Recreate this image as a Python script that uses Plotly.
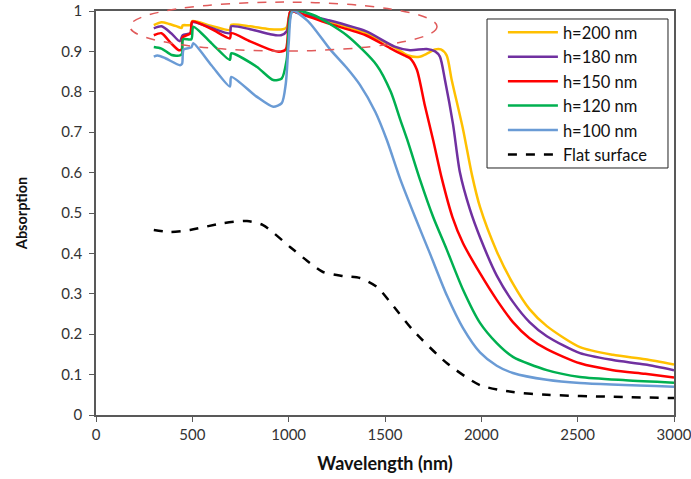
import plotly.graph_objects as go

# Absorption spectra of textured films with different feature heights h
wl_200 = [300, 340, 380, 420, 445, 450, 490, 500, 600, 695, 702, 800, 900, 970, 990, 1010, 1050,
          1200, 1400, 1550, 1620, 1680, 1720, 1760, 1790, 1820, 1846, 1906, 1951, 1993, 2080,
          2164, 2250, 2340, 2512, 2683, 2850, 3000]
abs_200 = [0.965, 0.972, 0.968, 0.962, 0.958, 0.965, 0.965, 0.975, 0.963, 0.953, 0.966, 0.962,
           0.955, 0.955, 0.96, 1.0, 0.995, 0.975, 0.945, 0.91, 0.89, 0.887, 0.895, 0.905, 0.905,
           0.89, 0.83, 0.705, 0.595, 0.515, 0.405, 0.325, 0.262, 0.22, 0.168, 0.149, 0.138, 0.125]

wl_180 = [300, 340, 390, 435, 450, 490, 500, 600, 695, 702, 800, 900, 960, 990, 1010, 1050, 1200,
          1400, 1550, 1630, 1716, 1760, 1785, 1811, 1853, 1889, 1940, 1993, 2080, 2164, 2250,
          2340, 2512, 2683, 2850, 3000]
abs_180 = [0.957, 0.962, 0.945, 0.925, 0.94, 0.945, 0.972, 0.958, 0.945, 0.962, 0.955, 0.943,
           0.94, 0.95, 1.0, 0.995, 0.978, 0.95, 0.912, 0.903, 0.906, 0.9, 0.887, 0.83, 0.72,
           0.60, 0.51, 0.44, 0.345, 0.28, 0.23, 0.195, 0.153, 0.136, 0.125, 0.111]

wl_150 = [300, 340, 390, 430, 445, 450, 490, 500, 600, 695, 702, 800, 900, 950, 985, 1010, 1050,
          1200, 1400, 1526, 1600, 1630, 1665, 1705, 1750, 1795, 1850, 1905, 1993, 2080, 2164,
          2250, 2340, 2512, 2683, 2850, 3000]
abs_150 = [0.94, 0.945, 0.92, 0.903, 0.905, 0.935, 0.945, 0.974, 0.955, 0.932, 0.945, 0.925,
           0.905, 0.899, 0.905, 1.0, 0.995, 0.97, 0.94, 0.908, 0.89, 0.883, 0.855, 0.77, 0.68,
           0.585, 0.49, 0.425, 0.351, 0.285, 0.23, 0.19, 0.163, 0.128, 0.111, 0.102, 0.093]

wl_120 = [300, 340, 393, 436, 447, 452, 495, 505, 600, 695, 702, 834, 920, 964, 990, 1020, 1128,
          1301, 1457, 1530, 1580, 1620, 1682, 1750, 1820, 1905, 1993, 2080, 2164, 2340, 2512,
          2750, 3000]
abs_120 = [0.911, 0.907, 0.891, 0.89, 0.895, 0.93, 0.93, 0.961, 0.92, 0.879, 0.895, 0.862,
           0.829, 0.833, 0.88, 1.0, 0.99, 0.94, 0.866, 0.80, 0.73, 0.675, 0.582, 0.49, 0.41,
           0.31, 0.228, 0.178, 0.144, 0.111, 0.094, 0.086, 0.08]

wl_100 = [300, 320, 360, 436, 447, 455, 495, 505, 600, 695, 702, 834, 920, 964, 985, 1000, 1020,
          1100, 1215, 1300, 1370, 1450, 1510, 1578, 1656, 1733, 1822, 1905, 1993, 2080, 2164,
          2340, 2512, 3000]
abs_100 = [0.887, 0.89, 0.883, 0.866, 0.87, 0.905, 0.91, 0.92, 0.865, 0.813, 0.837, 0.788,
           0.763, 0.772, 0.82, 0.92, 1.0, 0.975, 0.905, 0.86, 0.817, 0.75, 0.68, 0.585, 0.49,
           0.40, 0.295, 0.215, 0.155, 0.122, 0.104, 0.087, 0.079, 0.07]

wl_flat = [300, 384, 488, 660, 784, 867, 1007, 1111, 1178, 1282, 1370, 1458, 1526, 1645, 1822,
           1993, 2164, 2340, 2683, 3000]
abs_flat = [0.458, 0.453, 0.458, 0.475, 0.48, 0.47, 0.416, 0.376, 0.354, 0.344, 0.339, 0.317,
            0.28, 0.21, 0.128, 0.074, 0.057, 0.05, 0.045, 0.042]

series = [
    ("h=200 nm", wl_200, abs_200, "#FFC000", "solid"),
    ("h=180 nm", wl_180, abs_180, "#7030A0", "solid"),
    ("h=150 nm", wl_150, abs_150, "#FF0000", "solid"),
    ("h=120 nm", wl_120, abs_120, "#00B050", "solid"),
    ("h=100 nm", wl_100, abs_100, "#6A9BD5", "solid"),
    ("Flat surface", wl_flat, abs_flat, "#000000", "dash"),
]

x_ticks = [0, 500, 1000, 1500, 2000, 2500, 3000]
y_ticks = [0, 0.1, 0.2, 0.3, 0.4, 0.5, 0.6, 0.7, 0.8, 0.9, 1]
y_tick_text = ["0", "0.1", "0.2", "0.3", "0.4", "0.5", "0.6", "0.7", "0.8", "0.9", "1"]

fig = go.Figure()
for name, x, y, color, dash in series:
    fig.add_trace(go.Scatter(
        x=x, y=y, name=name, mode="lines",
        line=dict(color=color, width=2.5, dash=dash, shape="spline", smoothing=0.7),
    ))

font_family = "Lato, 'Open Sans', sans-serif"

fig.update_layout(
    width=691, height=479,
    margin=dict(l=96, r=17, t=11, b=64),
    paper_bgcolor="white", plot_bgcolor="white",
    font=dict(family=font_family, size=14, color="#222"),
    showlegend=True,
    legend=dict(
        x=0.704, y=0.99, xanchor="left", yanchor="top",
        bgcolor="rgba(0,0,0,0)", borderwidth=0,
        font=dict(size=16.5, color="#111"),
        itemwidth=50,
        tracegroupgap=0,
    ),
    xaxis=dict(
        range=[0, 3000], tickvals=x_ticks, ticks="outside", ticklen=5,
        tickcolor="#595959", showline=True, linecolor="#595959", linewidth=1.5,
        mirror=True, showgrid=False, zeroline=False, automargin=False,
        ticklabeloverflow="allow",
        tickfont=dict(size=15, color="#333"),
        title=dict(text="<b>Wavelength (nm)</b>", font=dict(size=18, color="#111"), standoff=16),
    ),
    yaxis=dict(
        range=[0, 1], tickvals=y_ticks, ticktext=y_tick_text, ticks="outside", ticklen=5,
        tickcolor="#595959", showline=True, linecolor="#595959", linewidth=1.5,
        mirror=True, showgrid=False, zeroline=False, automargin=False,
        ticklabelstandoff=4, ticklabeloverflow="allow",
        tickfont=dict(size=15, color="#333"),
        title=dict(text="<b>Absorption</b>", font=dict(size=14.5, color="#111"), standoff=30),
    ),
)

# Framed box behind the legend entries
fig.add_shape(
    type="rect", xref="paper", yref="paper",
    x0=0.6765, x1=0.9896, y0=0.6114, y1=0.9802,
    line=dict(color="#222", width=1), fillcolor="white",
    layer="below",
)

# Dashed ellipse highlighting the near-unity absorption band
fig.add_shape(
    type="circle", xref="paper", yref="paper",
    x0=0.0587, x1=0.59, y0=0.901, y1=1.022,
    line=dict(color="#E05A5A", width=1.5, dash="dash"),
    layer="above",
)

fig.write_html("out.html")
